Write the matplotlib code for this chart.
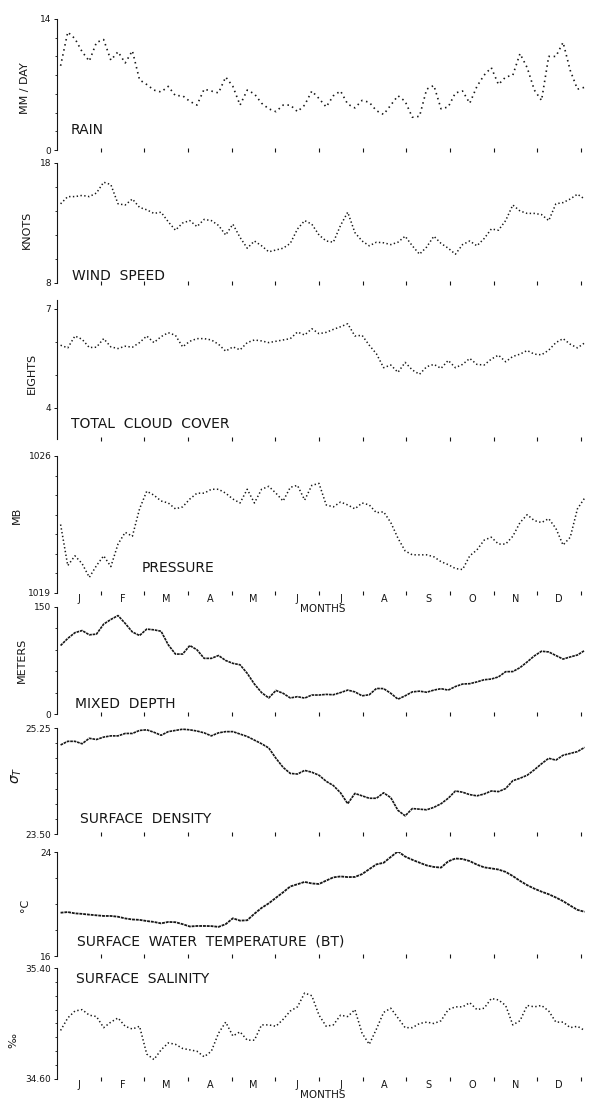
import numpy as np
import matplotlib.pyplot as plt

MONTH_LETTERS = ['J', 'F', 'M', 'A', 'M', 'J', 'J', 'A', 'S', 'O', 'N', 'D']

# five-day steps through the year
day = np.arange(74) * 5 + 2.5
month = day / 365.0 * 12

rain = [9.0, 12.6, 11.9, 10.5, 9.5, 11.5, 11.8, 9.6, 10.5, 9.3,
        10.6, 7.5, 7.0, 6.4, 6.2, 6.8, 5.8, 5.8, 5.2, 4.8,
        6.5, 6.3, 6.1, 7.8, 6.8, 4.8, 6.4, 6.0, 5.0, 4.4,
        4.1, 4.8, 4.8, 4.1, 4.8, 6.3, 5.5, 4.6, 5.8, 6.3,
        4.9, 4.5, 5.3, 5.1, 4.2, 3.8, 4.8, 5.8, 5.2, 3.5,
        3.6, 6.5, 6.9, 4.4, 4.6, 6.1, 6.3, 5.0, 6.8, 8.0,
        8.8, 7.0, 7.8, 8.0, 10.3, 8.8, 6.4, 5.3, 10.0, 10.0,
        11.5, 8.5, 6.5, 6.7]

wind = [14.6, 15.2, 15.2, 15.3, 15.2, 15.5, 16.4, 16.2, 14.6, 14.5,
        15.0, 14.3, 14.1, 13.8, 13.9, 13.1, 12.4, 13.0, 13.2, 12.7,
        13.3, 13.2, 12.8, 12.0, 12.9, 11.8, 10.9, 11.5, 11.1, 10.6,
        10.75, 10.9, 11.3, 12.5, 13.2, 12.9, 12.0, 11.5, 11.4, 12.8,
        13.9, 12.2, 11.5, 11.1, 11.4, 11.35, 11.2, 11.4, 11.9, 11.1,
        10.4, 11.0, 11.9, 11.3, 10.9, 10.4, 11.2, 11.5, 11.1, 11.7,
        12.5, 12.4, 13.2, 14.5, 14.0, 13.8, 13.8, 13.7, 13.2, 14.6,
        14.7, 15.0, 15.4, 15.0]

cloud = [5.90, 5.82, 6.18, 6.08, 5.83, 5.84, 6.10, 5.85, 5.80, 5.87,
         5.84, 5.98, 6.18, 5.98, 6.16, 6.28, 6.20, 5.85, 6.02, 6.10,
         6.10, 6.06, 5.93, 5.72, 5.85, 5.76, 5.98, 6.06, 6.03, 5.98,
         6.02, 6.06, 6.10, 6.30, 6.21, 6.40, 6.25, 6.29, 6.38, 6.46,
         6.55, 6.18, 6.20, 5.90, 5.64, 5.22, 5.30, 5.08, 5.38, 5.15,
         5.02, 5.25, 5.32, 5.20, 5.44, 5.22, 5.32, 5.50, 5.32, 5.30,
         5.48, 5.60, 5.40, 5.56, 5.63, 5.74, 5.63, 5.61, 5.75, 5.98,
         6.10, 5.93, 5.82, 5.97]

pressure = [1022.5, 1020.4, 1020.9, 1020.5, 1019.8, 1020.4, 1020.9, 1020.35, 1021.5, 1022.1,
            1021.9, 1023.3, 1024.2, 1024.0, 1023.7, 1023.6, 1023.3, 1023.4, 1023.8, 1024.1,
            1024.1, 1024.3, 1024.3, 1024.1, 1023.8, 1023.6, 1024.3, 1023.6, 1024.3, 1024.45,
            1024.1, 1023.7, 1024.4, 1024.5, 1023.75, 1024.5, 1024.6, 1023.5, 1023.4, 1023.65,
            1023.5, 1023.3, 1023.6, 1023.5, 1023.1, 1023.15, 1022.6, 1021.8, 1021.15, 1020.95,
            1020.95, 1020.95, 1020.85, 1020.6, 1020.45, 1020.25, 1020.2, 1020.9, 1021.2, 1021.7,
            1021.85, 1021.5, 1021.5, 1021.9, 1022.6, 1023.0, 1022.7, 1022.6, 1022.8, 1022.3,
            1021.45, 1021.85, 1023.3, 1023.85]

mixed_depth = [96, 106, 114, 117, 111, 112, 126, 132.5, 138, 127,
               115, 110, 119, 118, 116, 97, 84, 84, 96, 90,
               78, 78, 82, 75, 71, 69, 57, 42, 30, 22.5,
               33, 29, 22.5, 24.3, 22.3, 26.6, 26.6, 27.5, 27, 30,
               33.5, 31, 25.5, 27, 35.8, 35.6, 29, 20.8, 25.5, 31,
               32, 30.5, 33.5, 35.5, 33.5, 38.5, 42, 42.5, 45, 48,
               49, 52, 59.3, 59.5, 65, 73, 81.5, 88, 87, 82,
               77, 80, 82.7, 89]

density = [24.97, 25.03, 25.03, 24.99, 25.08, 25.06, 25.10, 25.12, 25.12, 25.16,
           25.16, 25.21, 25.22, 25.18, 25.13, 25.19, 25.21, 25.23, 25.22, 25.20,
           25.17, 25.12, 25.17, 25.19, 25.19, 25.15, 25.11, 25.05, 24.99, 24.92,
           24.75, 24.60, 24.50, 24.49, 24.55, 24.52, 24.47, 24.37, 24.30, 24.18,
           24.00, 24.17, 24.13, 24.09, 24.09, 24.18, 24.10, 23.89, 23.80, 23.92,
           23.91, 23.90, 23.94, 24.00, 24.09, 24.21, 24.19, 24.15, 24.13, 24.16,
           24.21, 24.20, 24.25, 24.38, 24.42, 24.47, 24.56, 24.66, 24.75, 24.72,
           24.80, 24.83, 24.86, 24.93]

temperature = [19.33, 19.38, 19.28, 19.24, 19.18, 19.13, 19.08, 19.08, 19.02, 18.89,
               18.81, 18.78, 18.69, 18.62, 18.51, 18.62, 18.60, 18.45, 18.27, 18.31,
               18.31, 18.30, 18.24, 18.45, 18.90, 18.72, 18.75, 19.25, 19.70, 20.05,
               20.48, 20.90, 21.35, 21.52, 21.70, 21.58, 21.54, 21.80, 22.05, 22.12,
               22.07, 22.08, 22.30, 22.68, 23.05, 23.17, 23.62, 24.05, 23.65, 23.40,
               23.18, 22.97, 22.85, 22.80, 23.28, 23.50, 23.46, 23.30, 23.03, 22.82,
               22.74, 22.65, 22.47, 22.15, 21.78, 21.45, 21.18, 20.95, 20.75, 20.50,
               20.22, 19.88, 19.55, 19.40]

salinity = [34.95, 35.04, 35.09, 35.10, 35.06, 35.05, 34.97, 35.01, 35.04, 34.98,
            34.96, 34.98, 34.78, 34.74, 34.81, 34.86, 34.85, 34.82, 34.81, 34.80,
            34.76, 34.80, 34.93, 35.01, 34.91, 34.94, 34.88, 34.88, 34.99, 34.99,
            34.98, 35.03, 35.09, 35.12, 35.22, 35.20, 35.06, 34.98, 34.99, 35.06,
            35.05, 35.10, 34.93, 34.85, 34.96, 35.08, 35.11, 35.04, 34.97, 34.97,
            35.00, 35.01, 35.00, 35.02, 35.10, 35.12, 35.12, 35.15, 35.10, 35.11,
            35.18, 35.17, 35.13, 34.99, 35.02, 35.13, 35.12, 35.13, 35.09, 35.01,
            35.01, 34.97, 34.98, 34.95]

FIG_W, FIG_H = 591, 1106
AX_LEFT, AX_RIGHT = 57, 588
INK = '#161616'

DOTS = (0, (0.9, 1.6))
DENSE = (0, (1.6, 0.5))

# series, ylim, end tick labels, unit label (x, y px), title (x, y axes frac),
# top/bottom px, line style, month labels
panels = [
    dict(y=rain, ylim=(0, 14), ticks=(0, 14), labels=('0', '14'), minor=2,
         unit='MM / DAY', unit_xy=(25, 88), title='RAIN', title_xy=(0.026, 0.15),
         box=(19, 150), ls=(0, (0.9, 2.2)), lw=1.2, months=False),
    dict(y=wind, ylim=(8, 18), ticks=(8, 18), labels=('8', '18'), minor=2,
         unit='KNOTS', unit_xy=(27, 230), title='WIND  SPEED', title_xy=(0.028, 0.06),
         box=(163, 283), ls=DOTS, lw=1.1, months=False),
    dict(y=cloud, ylim=(3.06, 7.27), ticks=(4, 7), labels=('4', '7'), minor=1,
         unit='EIGHTS', unit_xy=(32, 373), title='TOTAL  CLOUD  COVER', title_xy=(0.026, 0.108),
         box=(300, 439), ls=DOTS, lw=1.1, months=False),
    dict(y=pressure, ylim=(1019, 1026), ticks=(1019, 1026), labels=('1019', '1026'), minor=1,
         unit='MB', unit_xy=(17, 515), title='PRESSURE', title_xy=(0.16, 0.18),
         box=(456, 593), ls=DOTS, lw=1.1, months=True),
    dict(y=mixed_depth, ylim=(0, 150), ticks=(0, 150), labels=('0', '150'), minor=30,
         unit='METERS', unit_xy=(22, 660), title='MIXED  DEPTH', title_xy=(0.034, 0.093),
         box=(607, 714), ls=DENSE, lw=1.2, months=False),
    dict(y=density, ylim=(23.5, 25.25), ticks=(23.5, 25.25), labels=('23.50', '25.25'), minor=0.25,
         unit=r'$\sigma_T$', unit_xy=(17, 775), title='SURFACE  DENSITY', title_xy=(0.043, 0.14),
         box=(728, 834), ls=DENSE, lw=1.2, months=False),
    dict(y=temperature, ylim=(16, 24), ticks=(16, 24), labels=('16', '24'), minor=2,
         unit='°C', unit_xy=(25, 905), title='SURFACE  WATER  TEMPERATURE  (BT)',
         title_xy=(0.037, 0.135), box=(852, 956), ls=DENSE, lw=1.3, months=False),
    dict(y=salinity, ylim=(34.6, 35.4), ticks=(34.6, 35.4), labels=('34.60', '35.40'), minor=0.1,
         unit='‰', unit_xy=(13, 1040), title='SURFACE  SALINITY', title_xy=(0.036, 0.90),
         box=(968, 1079), ls=DOTS, lw=1.1, months=True),
]


def add_panel(fig, top, bottom):
    return fig.add_axes([AX_LEFT / FIG_W, 1 - bottom / FIG_H,
                         (AX_RIGHT - AX_LEFT) / FIG_W, (bottom - top) / FIG_H])


def draw_panel(fig, p):
    ax = add_panel(fig, *p['box'])
    # transparent so the MONTHS label of the panel above stays visible
    ax.patch.set_visible(False)
    ax.plot(month, p['y'], color=INK, linestyle=p['ls'], linewidth=p['lw'])

    ax.set_xlim(0, 12.16)
    ax.set_ylim(*p['ylim'])

    for side in ('top', 'right', 'bottom'):
        ax.spines[side].set_visible(False)
    ax.spines['left'].set_linewidth(0.8)
    ax.spines['left'].set_color(INK)

    ax.set_yticks(p['ticks'])
    ax.set_yticklabels(p['labels'])
    lo, hi = p['ticks']
    ax.set_yticks(np.arange(lo, hi + 1e-6, p['minor']), minor=True)
    ax.tick_params(axis='y', which='major', length=2.5, width=0.7, pad=1.5,
                   labelsize=6.5, colors=INK)
    ax.tick_params(axis='y', which='minor', length=1.8, width=0.6, colors=INK)

    # month boundaries as small marks along the bottom
    ax.set_xticks(np.arange(1, 13))
    ax.set_xticklabels([])
    ax.tick_params(axis='x', which='major', direction='inout', length=3, width=0.8,
                   colors=INK)
    if p['months']:
        ax.set_xticks(np.arange(0.5, 12), minor=True)
        ax.set_xticklabels(MONTH_LETTERS, minor=True)
        ax.tick_params(axis='x', which='minor', length=0, pad=0.5, labelsize=7,
                       labelcolor=INK)
        ax.set_xlabel('MONTHS', fontsize=7.5, color=INK, labelpad=0.5)

    ax.text(*p['title_xy'], p['title'], transform=ax.transAxes, fontsize=10,
            va='center', ha='left', color=INK)

    ux, uy = p['unit_xy']
    size = 10 if p['unit'].startswith('$') else 8
    fig.text(ux / FIG_W, 1 - uy / FIG_H, p['unit'], rotation=90, fontsize=size,
             ha='center', va='center', color=INK)
    return ax


def main():
    fig = plt.figure(figsize=(FIG_W / 100, FIG_H / 100), dpi=100)
    fig.patch.set_facecolor('white')

    for p in panels:
        draw_panel(fig, p)

    fig.savefig('out.png', dpi=100)


if __name__ == '__main__':
    main()
